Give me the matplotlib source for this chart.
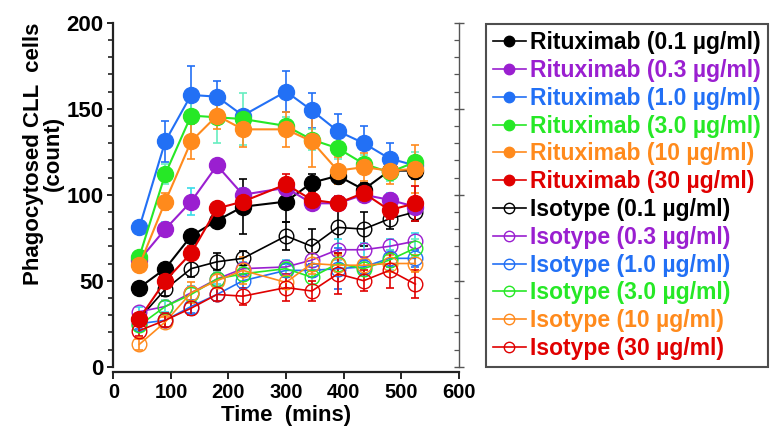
import numpy as np
import matplotlib
matplotlib.use('agg')
import matplotlib.pyplot as plt
from matplotlib.lines import Line2D
from matplotlib.ticker import MultipleLocator

plt.rcParams['font.family'] = ['Liberation Sans', 'DejaVu Sans']
plt.rcParams['font.weight'] = 'bold'

# time points (mins)
time = [45, 90, 135, 180, 225, 300, 345, 390, 435, 480, 525]

# Rituximab series (mean, error)
rit_01 = [46, 57, 76, 85, 93, 96, 107, 111, 103, 114, 114]
rit_01_err = [3, 3, 3, 4, 16, 12, 5, 5, 4, 5, 5]
rit_03 = [62, 80, 96, 117, 100, 104, 95, 95, 100, 97, 93]
rit_03_err = [3, 4, 8, 3, 4, 4, 4, 4, 4, 4, 4]
rit_1 = [81, 131, 158, 157, 146, 160, 149, 137, 130, 121, 117]
rit_1_err = [3, 12, 17, 9, 3, 12, 10, 10, 10, 9, 5]
rit_3 = [64, 112, 146, 145, 144, 140, 132, 127, 118, 113, 119]
rit_3_err = [3, 6, 12, 15, 15, 5, 6, 6, 5, 5, 6]
rit_10 = [59, 96, 131, 146, 138, 138, 131, 114, 116, 114, 115]
rit_10_err = [4, 5, 10, 8, 10, 10, 15, 8, 8, 8, 14]
rit_30 = [28, 50, 66, 92, 96, 106, 97, 95, 101, 91, 95]
rit_30_err = [3, 3, 4, 4, 4, 6, 4, 4, 4, 5, 10]

# Isotype series (mean, error)
iso_01 = [28, 45, 57, 61, 63, 76, 70, 81, 80, 86, 90]
iso_01_err = [3, 4, 5, 5, 4, 8, 10, 15, 10, 6, 5]
iso_03 = [32, 35, 43, 51, 57, 58, 62, 68, 68, 70, 73]
iso_03_err = [3, 3, 4, 3, 4, 4, 4, 6, 4, 4, 5]
iso_1 = [25, 27, 35, 42, 50, 56, 56, 57, 58, 63, 63]
iso_1_err = [3, 4, 4, 4, 4, 4, 4, 12, 4, 5, 5]
iso_3 = [24, 35, 42, 51, 54, 57, 52, 60, 57, 62, 69]
iso_3_err = [3, 4, 4, 4, 4, 4, 4, 5, 4, 6, 5]
iso_10 = [13, 26, 43, 50, 56, 49, 60, 59, 59, 60, 60]
iso_10_err = [3, 3, 6, 4, 8, 4, 6, 6, 5, 5, 5]
iso_30 = [21, 27, 34, 42, 41, 46, 44, 54, 50, 56, 48]
iso_30_err = [3, 4, 4, 4, 5, 8, 6, 12, 6, 10, 8]

concs = ['0.1', '0.3', '1.0', '3.0', '10', '30']
colors = ['#000000', '#9a1fd0', '#2270f5', '#26e826', '#ff8a1c', '#e00000']
err_colors = ['#000000', '#38dbe8', '#2270f5', '#66eec0', '#ff8a1c', '#e00000']

rit = [(rit_01, rit_01_err), (rit_03, rit_03_err), (rit_1, rit_1_err),
       (rit_3, rit_3_err), (rit_10, rit_10_err), (rit_30, rit_30_err)]
iso = [(iso_01, iso_01_err), (iso_03, iso_03_err), (iso_1, iso_1_err),
       (iso_3, iso_3_err), (iso_10, iso_10_err), (iso_30, iso_30_err)]

fig = plt.figure(figsize=(7.71, 4.30), dpi=100)
ax = fig.add_axes([0.1472, 0.1356, 0.4475, 0.8116])

for (y, e), c, ec in zip(iso, colors, err_colors):
    ax.errorbar(time, y, yerr=e, fmt='none', ecolor=ec, elinewidth=1.2, capsize=3, capthick=1.2, zorder=2)
    ax.plot(time, y, color=c, lw=1.2, marker='o', ms=10.5, mfc='none', mec=c, mew=1.0, zorder=3)

for (y, e), c, ec in zip(rit, colors, err_colors):
    ax.errorbar(time, y, yerr=e, fmt='none', ecolor=ec, elinewidth=1.2, capsize=3, capthick=1.2, zorder=4)
    ax.plot(time, y, color=c, lw=1.5, marker='o', ms=11.5, mfc=c, mec=c, zorder=5)

ax.set_xlim(0, 600)
ax.set_ylim(-2.9, 200)
ax.spines['top'].set_visible(False)
ax.spines['right'].set_visible(False)
ax.spines['left'].set_bounds(0, 200)
ax.spines['left'].set_linewidth(1.6)
ax.spines['bottom'].set_linewidth(1.6)
ax.spines['left'].set_color('#222222')
ax.spines['bottom'].set_color('#222222')
ax.xaxis.set_major_locator(MultipleLocator(100))
ax.yaxis.set_major_locator(MultipleLocator(50))
ax.yaxis.set_minor_locator(MultipleLocator(10))
ax.tick_params(axis='x', which='major', direction='out', length=5, width=1.4, labelsize=14.5, color='#222222', pad=3)
ax.tick_params(axis='y', which='major', direction='out', length=4, width=1.4, labelsize=16, color='#222222', pad=3)
ax.tick_params(axis='y', which='minor', direction='out', length=3.5, width=1.2, color='#222222')
for lab in ax.get_xticklabels() + ax.get_yticklabels():
    lab.set_fontweight('bold')

# right-hand axis line with inward ticks
ax2 = ax.twinx()
ax2.set_ylim(ax.get_ylim())
ax2.spines['top'].set_visible(False)
ax2.spines['left'].set_visible(False)
ax2.spines['bottom'].set_visible(False)
ax2.spines['right'].set_bounds(0, 200)
ax2.spines['right'].set_linewidth(1.0)
ax2.spines['right'].set_color('#555555')
ax2.yaxis.set_major_locator(MultipleLocator(50))
ax2.yaxis.set_minor_locator(MultipleLocator(10))
ax2.tick_params(axis='y', which='major', direction='inout', length=7, width=1.0, labelright=False, color='#555555')
ax2.tick_params(axis='y', which='minor', direction='in', length=3.5, width=0.9, color='#555555')

ax.set_xlabel('Time  (mins)', fontsize=16, fontweight='bold', labelpad=2)
ax.set_ylabel('Phagocytosed CLL  cells\n(count)', fontsize=16, fontweight='bold', linespacing=0.95)
ax.yaxis.set_label_coords(-0.143, 0.625)

handles = []
labels = []
for c, conc in zip(colors, concs):
    handles.append(Line2D([], [], color=c, lw=1.2, marker='o', ms=7.5, mfc=c, mec=c))
    labels.append('Rituximab (%s µg/ml)' % conc)
for c, conc in zip(colors, concs):
    handles.append(Line2D([], [], color=c, lw=1.2, marker='o', ms=7.5, mfc='none', mec=c, mew=1.0))
    labels.append('Isotype (%s µg/ml)' % conc)

leg = fig.legend(handles, labels, loc='upper left', bbox_to_anchor=(0.630, 0.9435),
                 frameon=True, fancybox=False, edgecolor='#222222',
                 handlelength=1.45, handletextpad=0.2, labelspacing=0.21,
                 borderpad=0.3, borderaxespad=0, prop={'weight': 'bold', 'size': 16.5})
leg.get_frame().set_linewidth(1.5)
for t, c in zip(leg.get_texts(), colors + colors):
    t.set_color(c)

fig.savefig('out.png', dpi=100)
